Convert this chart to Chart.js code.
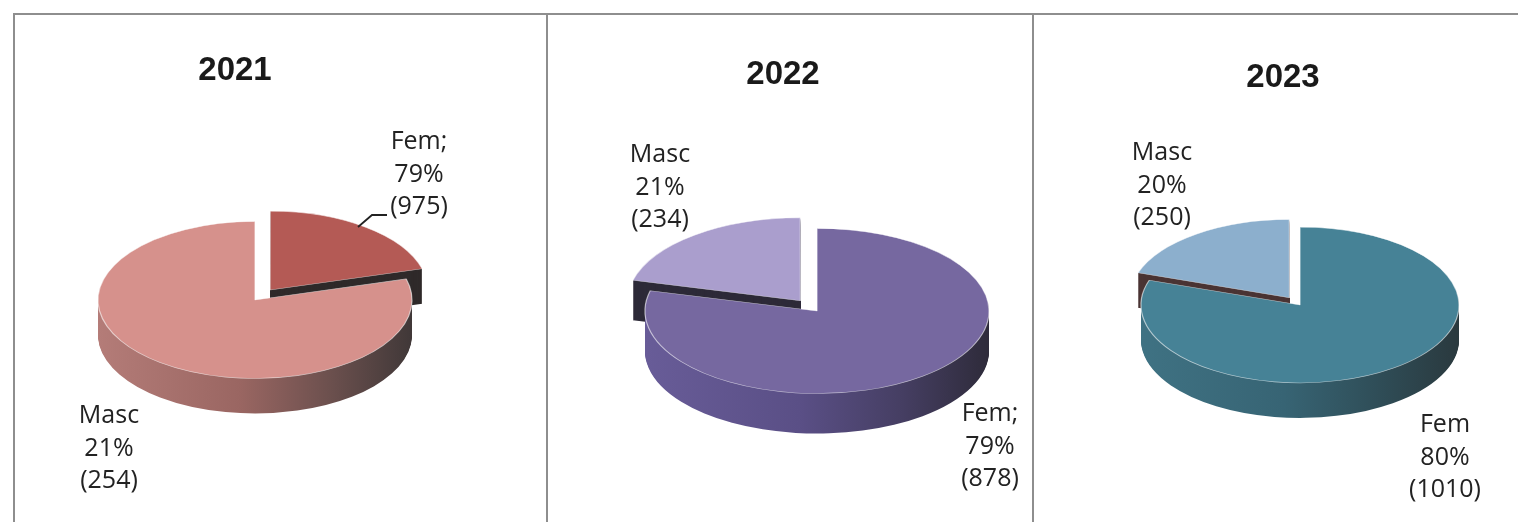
<!DOCTYPE html>
<html><head><meta charset="utf-8">
<script src="https://cdn.jsdelivr.net/npm/chart.js@4.4.1/dist/chart.umd.min.js"></script>
<style>
html,body{margin:0;padding:0;background:#fff;width:1518px;height:522px;overflow:hidden;}
.frame{position:absolute;left:13px;top:13px;width:1530px;height:530px;border-top:2px solid #8e8e8e;border-left:2px solid #8e8e8e;}
.sep{position:absolute;top:13px;height:530px;width:0;border-left:2px solid #8e8e8e;}
canvas{position:absolute;top:15px;}
</style></head>
<body>
<div class="frame"></div>
<div class="sep" style="left:546px"></div>
<div class="sep" style="left:1032px"></div>
<canvas id="c0" style="left:15px;width:531px;height:507px" width="531" height="507"></canvas>
<canvas id="c1" style="left:548px;width:484px;height:507px" width="484" height="507"></canvas>
<canvas id="c2" style="left:1034px;width:484px;height:507px" width="484" height="507"></canvas>
<script>
// ---- data (slices listed clockwise from 12 o'clock, as drawn) ----
const titles = ['2021', '2022', '2023'];

const values2021 = [254, 975];
const names2021  = ['Fem;', 'Masc'];
const pcts2021   = ['79%', '21%'];
const counts2021 = ['(975)', '(254)'];

const values2022 = [878, 234];
const names2022  = ['Fem;', 'Masc'];
const pcts2022   = ['79%', '21%'];
const counts2022 = ['(878)', '(234)'];

const values2023 = [1010, 250];
const names2023  = ['Fem', 'Masc'];
const pcts2023   = ['80%', '20%'];
const counts2023 = ['(1010)', '(250)'];

const allValues = [values2021, values2022, values2023];
const allNames  = [names2021, names2022, names2023];
const allPcts   = [pcts2021, pcts2022, pcts2023];
const allCounts = [counts2021, counts2022, counts2023];

// ---- layout & style ----
const layouts = [
  { canvas: 'c0', cx: 240, cy: 285, r: 157, sy: 0.5, depth: 35, offsets: [100, 0],
    title: [220, 56], labels: [[404, 127], [94, 401]],
    leader: [[343, 212], [357, 200], [372, 200]],
    top: ['#b45a55', '#d6918c'], cut: '#2f2a2a',
    side: [[0, '#b47c78'], [0.45, '#9a6662'], [0.75, '#6a4f4d'], [1, '#403838']] },
  { canvas: 'c1', cx: 269, cy: 296, r: 172, sy: 0.48, depth: 40, offsets: [0, 108],
    title: [235, 60], labels: [[442, 399], [112, 140]], leader: null,
    top: ['#7668a0', '#aa9ecd'], cut: '#2d2a38',
    side: [[0, '#685c98'], [0.45, '#5a4f86'], [0.75, '#453e62'], [1, '#2e2b3a']] },
  { canvas: 'c2', cx: 266, cy: 290, r: 159, sy: 0.49, depth: 35, offsets: [0, 72],
    title: [249, 63], labels: [[411, 410], [128, 138]], leader: null,
    top: ['#468296', '#8cafcd'], cut: '#4a3434',
    side: [[0, '#3f7283'], [0.45, '#376474'], [0.75, '#2f4d57'], [1, '#2a393e']] }
];

const pie3d = {
  id: 'pie3d',
  beforeDatasetsDraw(chart, args, opts) {
    const ctx = chart.ctx;
    const arcs = chart.getDatasetMeta(0).data;
    const cx = arcs[0].x, cy = arcs[0].y, R = arcs[0].outerRadius;
    ctx.save();
    ctx.translate(cx, cy); ctx.scale(1, opts.sy); ctx.translate(-cx, -cy);
    const grad = ctx.createLinearGradient(cx - R, 0, cx + R, 0);
    opts.side.forEach(([p, c]) => grad.addColorStop(p, c));
    const order = arcs.map((a, i) => i).sort((i, j) => (arcs[j].options.offset || 0) - (arcs[i].options.offset || 0));
    order.forEach(i => {
      const a = arcs[i];
      const fill = (a.options.offset || 0) > 0 ? opts.cut : grad;
      const p = Object.create(a);
      p.options = Object.assign({}, a.options, { backgroundColor: fill, borderWidth: 0 });
      for (let d = opts.depth; d >= 1; d -= 1) {
        ctx.save(); ctx.translate(0, d / opts.sy); p.draw(ctx); ctx.restore();
      }
    });
  },
  afterDatasetsDraw(chart) { chart.ctx.restore(); }
};

const texts = {
  id: 'texts',
  afterDraw(chart, args, opts) {
    const ctx = chart.ctx;
    ctx.save();
    ctx.fillStyle = '#1a1a1a';
    ctx.textAlign = 'center';
    ctx.textBaseline = 'middle';
    ctx.font = 'bold 33px "Liberation Sans", Arial, sans-serif';
    ctx.fillText(opts.title, opts.titlePos[0], opts.titlePos[1]);
    ctx.font = '25px "Open Sans", sans-serif';
    ctx.fillStyle = '#222';
    opts.names.forEach((n, i) => {
      const [x, y] = opts.labels[i];
      [n, opts.pcts[i], opts.counts[i]].forEach((t, k) => ctx.fillText(t, x, y + k * 32.5));
    });
    if (opts.leader) {
      ctx.strokeStyle = '#222'; ctx.lineWidth = 1.8;
      ctx.beginPath();
      opts.leader.forEach(([x, y], k) => k ? ctx.lineTo(x, y) : ctx.moveTo(x, y));
      ctx.stroke();
    }
    ctx.restore();
  }
};

layouts.forEach((L, n) => {
  const cv = document.getElementById(L.canvas);
  const W = cv.width, H = cv.height;
  new Chart(cv, {
    type: 'pie',
    data: {
      labels: allNames[n],
      datasets: [{
        data: allValues[n],
        backgroundColor: L.top,
        borderColor: 'rgba(255,255,255,0.6)',
        borderWidth: 1.2,
        offset: L.offsets,
        clip: false
      }]
    },
    options: {
      responsive: false,
      animation: false,
      events: [],
      radius: L.r,
      layout: { padding: {
        left: Math.max(0, 2 * L.cx - W), right: Math.max(0, W - 2 * L.cx),
        top: Math.max(0, 2 * L.cy - H), bottom: Math.max(0, H - 2 * L.cy) } },
      plugins: {
        legend: { display: false },
        tooltip: { enabled: false },
        title: { display: false },
        pie3d: { sy: L.sy, depth: L.depth, side: L.side, cut: L.cut },
        texts: { title: titles[n], titlePos: L.title, labels: L.labels, leader: L.leader,
                 names: allNames[n], pcts: allPcts[n], counts: allCounts[n] }
      }
    },
    plugins: [pie3d, texts]
  });
});
</script>
</body></html>
